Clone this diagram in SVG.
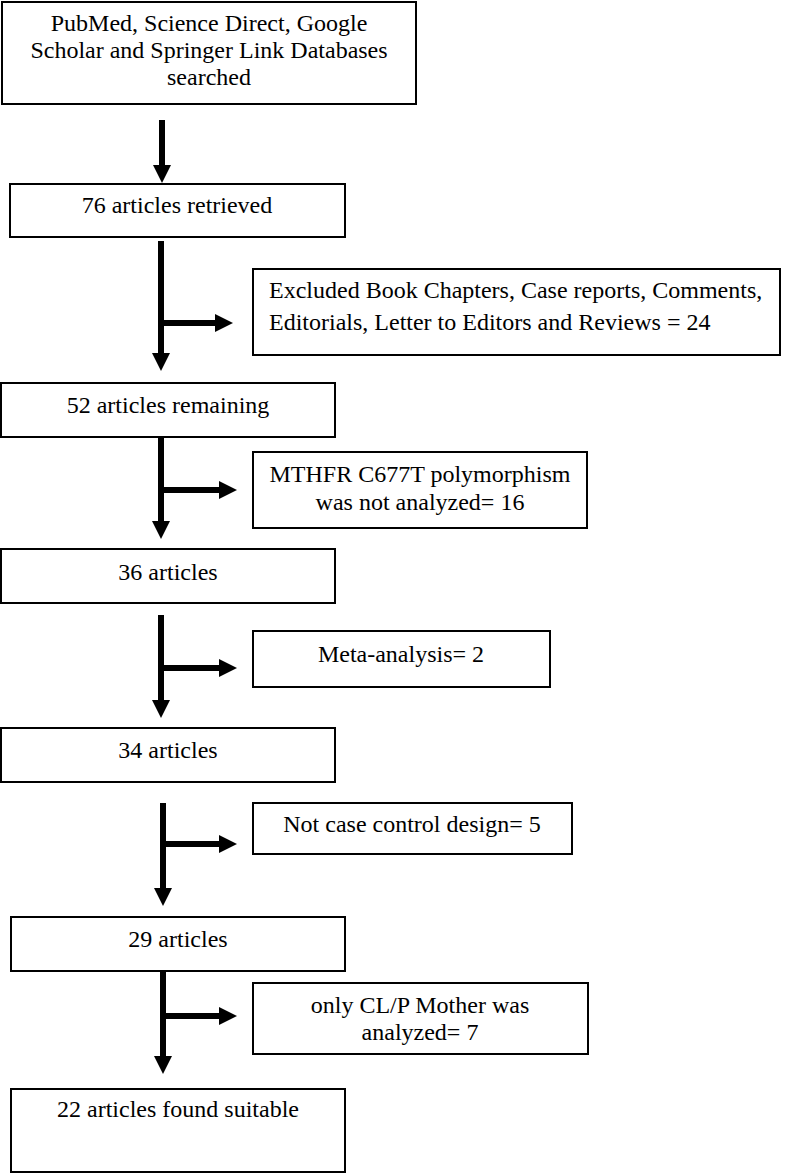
<svg xmlns="http://www.w3.org/2000/svg" width="786" height="1174" viewBox="0 0 786 1174">
<style>
.box{fill:#fff;stroke:#000;stroke-width:2}
.t{font-family:"Liberation Serif",serif;font-size:24px;fill:#000}
.c{text-anchor:middle}
.ln{stroke:#000;stroke-width:6;fill:none}
</style>
<defs>
<marker id="ah" markerUnits="userSpaceOnUse" markerWidth="18" markerHeight="18" refX="0" refY="9" orient="auto" viewBox="0 0 18 18">
<path d="M0,0 L18,9 L0,18 Z" fill="#000"/>
</marker>
</defs>
<g id="connectors">
<line class="ln" x1="162" y1="120" x2="162" y2="165" marker-end="url(#ah)"/>
<line class="ln" x1="161" y1="241" x2="161" y2="353" marker-end="url(#ah)"/>
<line class="ln" x1="161" y1="323" x2="215" y2="323" marker-end="url(#ah)"/>
<line class="ln" x1="161" y1="437" x2="161" y2="521" marker-end="url(#ah)"/>
<line class="ln" x1="161" y1="490" x2="219" y2="490" marker-end="url(#ah)"/>
<line class="ln" x1="161" y1="615" x2="161" y2="700" marker-end="url(#ah)"/>
<line class="ln" x1="161" y1="668" x2="219" y2="668" marker-end="url(#ah)"/>
<line class="ln" x1="163" y1="803" x2="163" y2="888" marker-end="url(#ah)"/>
<line class="ln" x1="163" y1="844" x2="219" y2="844" marker-end="url(#ah)"/>
<line class="ln" x1="163" y1="971" x2="163" y2="1056" marker-end="url(#ah)"/>
<line class="ln" x1="163" y1="1016" x2="219" y2="1016" marker-end="url(#ah)"/>
</g>
<g id="n1"><rect class="box" x="2" y="2" width="414" height="102"/>
<text class="t c" x="209" y="31">PubMed, Science Direct, Google</text>
<text class="t c" x="209" y="58">Scholar and Springer Link Databases</text>
<text class="t c" x="209" y="85">searched</text></g>
<g id="n2"><rect class="box" x="10" y="184" width="335" height="53"/>
<text class="t c" x="177" y="213">76 articles retrieved</text></g>
<g id="n3"><rect class="box" x="253" y="269" width="527" height="86"/>
<text class="t" x="269" y="298">Excluded Book Chapters, Case reports, Comments,</text>
<text class="t" x="269" y="330">Editorials, Letter to Editors and Reviews = 24</text></g>
<g id="n4"><rect class="box" x="1" y="383" width="334" height="54"/>
<text class="t c" x="168" y="413">52 articles remaining</text></g>
<g id="n5"><rect class="box" x="253" y="452" width="334" height="76"/>
<text class="t c" x="420" y="482">MTHFR C677T polymorphism</text>
<text class="t c" x="420" y="510">was not analyzed= 16</text></g>
<g id="n6"><rect class="box" x="1" y="549" width="334" height="54"/>
<text class="t c" x="168" y="580">36 articles</text></g>
<g id="n7"><rect class="box" x="253" y="631" width="297" height="56"/>
<text class="t c" x="401" y="662">Meta-analysis= 2</text></g>
<g id="n8"><rect class="box" x="1" y="728" width="334" height="54"/>
<text class="t c" x="168" y="758">34 articles</text></g>
<g id="n9"><rect class="box" x="253" y="803" width="319" height="51"/>
<text class="t c" x="412" y="832">Not case control design= 5</text></g>
<g id="n10"><rect class="box" x="11" y="917" width="334" height="54"/>
<text class="t c" x="178" y="947">29 articles</text></g>
<g id="n11"><rect class="box" x="253" y="983" width="335" height="71"/>
<text class="t c" x="420" y="1013">only CL/P Mother was</text>
<text class="t c" x="420" y="1040">analyzed= 7</text></g>
<g id="n12"><rect class="box" x="11" y="1089" width="334" height="83"/>
<text class="t c" x="178" y="1117">22 articles found suitable</text></g>
</svg>
